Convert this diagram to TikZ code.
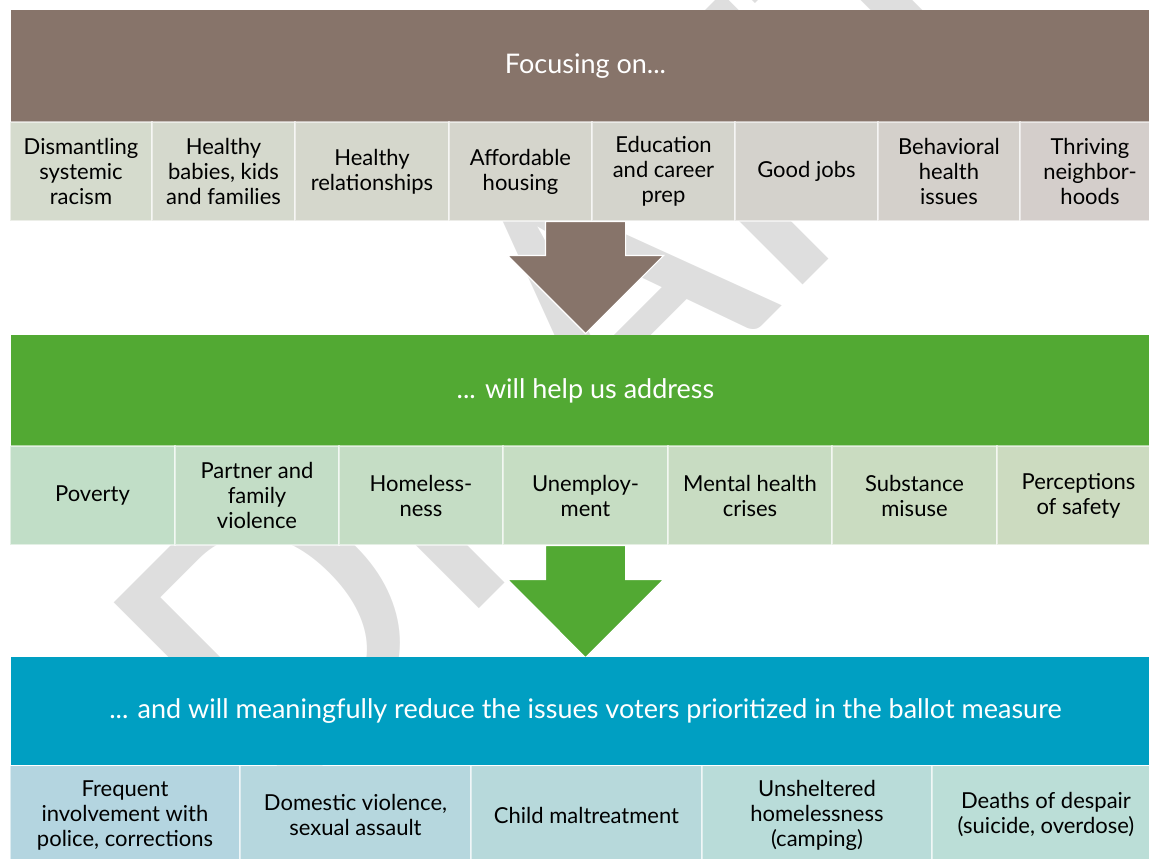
\documentclass[tikz,border=0pt]{standalone}
\usepackage{fontspec}
\setmainfont{Lato}
\newfontfamily\wmfont{Carlito}
\usetikzlibrary{shapes.arrows}
\definecolor{focusbrown}{RGB}{135,116,106}
\definecolor{helpgreen}{RGB}{82,169,51}
\definecolor{reduceblue}{RGB}{0,159,194}
\definecolor{wmgray}{RGB}{222,222,222}
\definecolor{focusL}{RGB}{213,219,205}
\definecolor{focusR}{RGB}{212,206,203}
\definecolor{helpL}{RGB}{193,222,199}
\definecolor{helpR}{RGB}{204,219,192}
\definecolor{reduceL}{RGB}{180,213,224}
\definecolor{reduceR}{RGB}{187,222,215}
\colorlet{fc1}{focusR!0!focusL}
\colorlet{fc2}{focusR!14!focusL}
\colorlet{fc3}{focusR!29!focusL}
\colorlet{fc4}{focusR!43!focusL}
\colorlet{fc5}{focusR!57!focusL}
\colorlet{fc6}{focusR!71!focusL}
\colorlet{fc7}{focusR!86!focusL}
\colorlet{fc8}{focusR!100!focusL}
\colorlet{hc1}{helpR!0!helpL}
\colorlet{hc2}{helpR!17!helpL}
\colorlet{hc3}{helpR!33!helpL}
\colorlet{hc4}{helpR!50!helpL}
\colorlet{hc5}{helpR!67!helpL}
\colorlet{hc6}{helpR!83!helpL}
\colorlet{hc7}{helpR!100!helpL}
\colorlet{rc1}{reduceR!0!reduceL}
\colorlet{rc2}{reduceR!25!reduceL}
\colorlet{rc3}{reduceR!50!reduceL}
\colorlet{rc4}{reduceR!75!reduceL}
\colorlet{rc5}{reduceR!100!reduceL}
\tikzset{
  banner/.style={rectangle, inner sep=0pt, minimum width=1149pt, text=white,
    font=\fontsize{27}{32}\selectfont},
  cell/.style={rectangle, draw=white, draw opacity=0.55, line width=1.5pt, inner sep=0pt,
    align=center, minimum height=99pt, font=\fontsize{22}{25}\selectfont},
  downarrow/.style={single arrow, rotate=-90, draw=white, line width=1.2pt,
    inner xsep=0pt, inner ysep=39.5pt, single arrow head extend=38pt,
    single arrow tip angle=90, minimum width=155pt, minimum height=112pt, anchor=tail}
}
\begin{document}
\begin{tikzpicture}[x=1pt, y=-1pt]
\clip (0,0) rectangle (1149,859);
\node[rotate=45, text=wmgray, inner sep=0pt, font=\wmfont\fontsize{410}{410}\selectfont] (wm) at (576,326) {DRAFT};
\node[banner, fill=focusbrown, minimum height=112pt] (focus) at (585.5,66) {\raisebox{-3pt}{Focusing on...}};
\node[cell, fill=fc1, minimum width=142pt] (f1) at (81,171.5) {Dismantling\\systemic\\racism};
\node[cell, fill=fc2, minimum width=143pt] (f2) at (223.5,171.5) {Healthy\\babies, kids\\and families};
\node[cell, fill=fc3, minimum width=154pt] (f3) at (372,171.5) {Healthy\\relationships};
\node[cell, fill=fc4, minimum width=143pt] (f4) at (520.5,171.5) {Affordable\\housing};
\node[cell, fill=fc5, minimum width=143pt] (f5) at (663.5,171.5) {Education\\and career\\prep};
\node[cell, fill=fc6, minimum width=143pt] (f6) at (806.5,171.5) {Good jobs};
\node[cell, fill=fc7, minimum width=142pt] (f7) at (949,171.5) {Behavioral\\health\\issues};
\node[cell, fill=fc8, minimum width=140pt] (f8) at (1090,171.5) {Thriving\\neighbor-\\hoods};
\node[downarrow, fill=focusbrown] (arrA) at (585.5,221) {};
\node[banner, fill=helpgreen, minimum height=111pt] (help) at (585.5,390.5) {\raisebox{-2pt}{... will help us address}};
\node[cell, fill=hc1, minimum width=165pt] (h1) at (92.5,495.5) {Poverty};
\node[cell, fill=hc2, minimum width=164pt] (h2) at (257,495.5) {Partner and\\family\\violence};
\node[cell, fill=hc3, minimum width=164pt] (h3) at (421,495.5) {Homeless-\\ness};
\node[cell, fill=hc4, minimum width=165pt] (h4) at (585.5,495.5) {Unemploy-\\ment};
\node[cell, fill=hc5, minimum width=164pt] (h5) at (750,495.5) {Mental health\\crises};
\node[cell, fill=hc6, minimum width=165pt] (h6) at (914.5,495.5) {Substance\\misuse};
\node[cell, fill=hc7, minimum width=163pt] (h7) at (1078.5,495.5) {Perceptions\\of safety};
\node[downarrow, fill=helpgreen] (arrB) at (585.5,545) {};
\node[banner, fill=reduceblue, minimum height=108pt] (reduce) at (585.5,711) {\raisebox{-2pt}{... and will meaningfully reduce the issues voters prioritized in the ballot measure}};
\node[cell, fill=rc1, minimum width=230pt] (r1) at (125,815) {Frequent\\involvement with\\police, corrections};
\node[cell, fill=rc2, minimum width=231pt] (r2) at (355.5,815) {Domestic violence,\\sexual assault};
\node[cell, fill=rc3, minimum width=231pt] (r3) at (586.5,815) {Child maltreatment};
\node[cell, fill=rc4, minimum width=230pt] (r4) at (817,815) {Unsheltered\\homelessness\\(camping)};
\node[cell, fill=rc5, minimum width=228pt] (r5) at (1046,815) {Deaths of despair\\(suicide, overdose)};
\end{tikzpicture}
\end{document}
